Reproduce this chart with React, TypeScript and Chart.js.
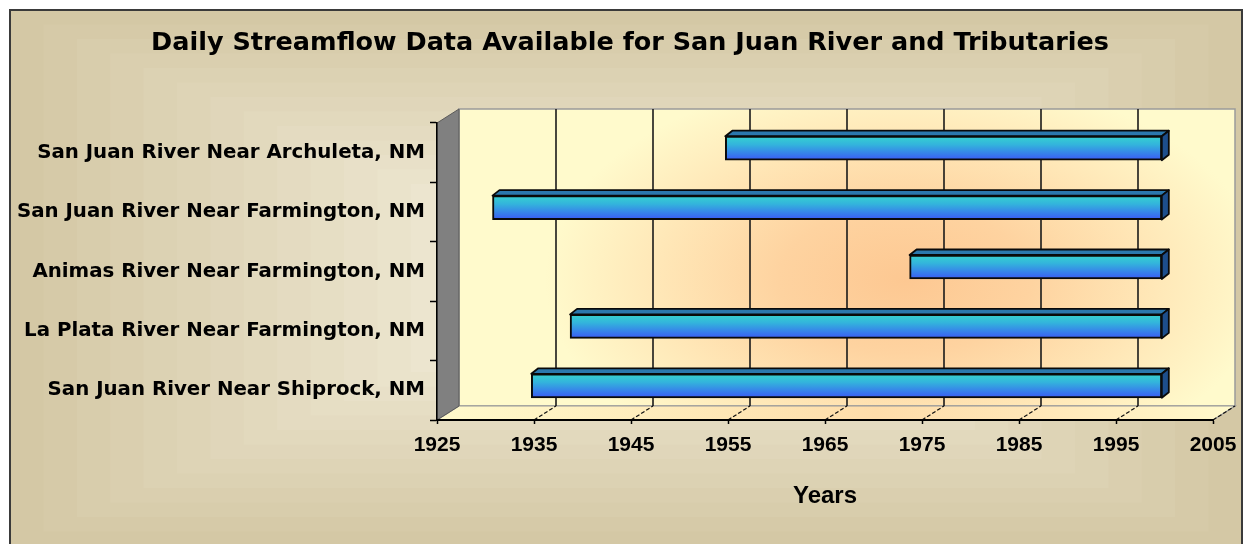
import React, { useEffect, useRef } from 'react';
import { Chart, registerables } from 'chart.js';

Chart.register(...registerables);

const chartTitle = 'Daily Streamflow Data Available for San Juan River and Tributaries';
const axisTitle = 'Years';
const stations = [
  'San Juan River Near Archuleta, NM',
  'San Juan River Near Farmington, NM',
  'Animas River Near Farmington, NM',
  'La Plata River Near Farmington, NM',
  'San Juan River Near Shiprock, NM',
];
const startYears = [1954, 1930, 1973, 1938, 1934];
const endYears = [1999, 1999, 1999, 1999, 1999];
const yearTicks = [1925, 1935, 1945, 1955, 1965, 1975, 1985, 1995, 2005];

const DEPTH_X = 22;
const DEPTH_Y = 14;
const BAR_SHIFT_X = 7;
const BAR_SHIFT_Y = 4.5;
const BAR_DX = 7;
const BAR_DY = 5.5;

function mix(a: number[], b: number[], t: number) {
  return `rgb(${a.map((v, i) => Math.round(v + (b[i] - v) * t)).join(',')})`;
}

const scenePlugin = {
  id: 'scene3d',
  beforeDraw(chart: any) {
    const ctx = chart.ctx as CanvasRenderingContext2D;
    const ca = chart.chartArea;
    const xs = chart.scales.x;
    ctx.save();
    // outer frame with concentric bands
    const fx0 = 10, fy0 = 10, fx1 = 1242, fy1 = 546;
    const outer = [212, 200, 165];
    const inner = [246, 241, 224];
    const N = 18;
    for (let i = 0; i < N; i++) {
      const ix = i * 33.4, iy = i * 14.5;
      ctx.fillStyle = mix(outer, inner, i / (N - 1));
      ctx.fillRect(fx0 + ix, fy0 + iy, fx1 - fx0 - 2 * ix, fy1 - fy0 - 2 * iy);
    }
    ctx.strokeStyle = '#3a3a3a';
    ctx.lineWidth = 2;
    ctx.strokeRect(fx0, fy0, fx1 - fx0, fy1 - fy0);

    // chart title (centered on the frame)
    ctx.fillStyle = '#000';
    ctx.font = 'bold 25.5px "DejaVu Sans"';
    ctx.textAlign = 'center';
    ctx.textBaseline = 'middle';
    ctx.fillText(chartTitle, 630, 43);

    const L = ca.left, R = ca.right, T = ca.top, B = ca.bottom;
    const bl = L + DEPTH_X, br = R + DEPTH_X, bt = T - DEPTH_Y, bb = B - DEPTH_Y;

    // back wall
    ctx.save();
    ctx.beginPath();
    ctx.rect(bl, bt, br - bl, bb - bt);
    ctx.clip();
    ctx.fillStyle = '#FFFACC';
    ctx.fillRect(bl, bt, br - bl, bb - bt);
    const cx = 905, cy = 280;
    ctx.translate(cx, cy);
    ctx.scale(1, 0.58);
    const rg = ctx.createRadialGradient(0, 0, 0, 0, 0, 360);
    rg.addColorStop(0, '#FDC892');
    rg.addColorStop(0.35, '#FED3A0');
    rg.addColorStop(0.7, '#FFE8B8');
    rg.addColorStop(1, '#FFFACC');
    ctx.fillStyle = rg;
    ctx.fillRect(-700, -700, 1400, 1400);
    ctx.restore();
    ctx.strokeStyle = '#9a9a9a';
    ctx.lineWidth = 1.5;
    ctx.strokeRect(bl, bt, br - bl, bb - bt);

    // floor
    const fg = ctx.createLinearGradient(L, 0, br, 0);
    fg.addColorStop(0, '#FFFACC');
    fg.addColorStop(0.55, '#FEDDAA');
    fg.addColorStop(0.75, '#FFE7B8');
    fg.addColorStop(1, '#FFFACC');
    ctx.beginPath();
    ctx.moveTo(L, B);
    ctx.lineTo(R, B);
    ctx.lineTo(br, bb);
    ctx.lineTo(bl, bb);
    ctx.closePath();
    ctx.fillStyle = fg;
    ctx.fill();
    ctx.strokeStyle = '#9a9a9a';
    ctx.lineWidth = 1.2;
    ctx.stroke();

    // side wall
    ctx.beginPath();
    ctx.moveTo(L, T);
    ctx.lineTo(bl, bt);
    ctx.lineTo(bl, bb);
    ctx.lineTo(L, B);
    ctx.closePath();
    ctx.fillStyle = '#808080';
    ctx.fill();
    ctx.strokeStyle = '#5a5a5a';
    ctx.lineWidth = 1;
    ctx.stroke();

    // gridlines on back wall and floor
    xs.ticks.forEach((t: any) => {
      const px = xs.getPixelForValue(t.value);
      if (t.value > yearTicks[0] && t.value < yearTicks[yearTicks.length - 1]) {
        ctx.beginPath();
        ctx.moveTo(px + DEPTH_X, bt);
        ctx.lineTo(px + DEPTH_X, bb);
        ctx.strokeStyle = '#1a1a1a';
        ctx.lineWidth = 1.6;
        ctx.stroke();
      }
      if (t.value > yearTicks[0]) {
        ctx.beginPath();
        ctx.moveTo(px, B);
        ctx.lineTo(px + DEPTH_X, bb);
        ctx.strokeStyle = '#111';
        ctx.lineWidth = 1.2;
        ctx.setLineDash([4, 2]);
        ctx.stroke();
        ctx.setLineDash([]);
      }
    });
    ctx.restore();
  },
  beforeDatasetsDraw(chart: any) {
    const ctx = chart.ctx as CanvasRenderingContext2D;
    ctx.save();
    ctx.translate(BAR_SHIFT_X, -BAR_SHIFT_Y);
    const meta = chart.getDatasetMeta(0);
    meta.data.forEach((el: any) => {
      const p = el.getProps(['x', 'base', 'y', 'height'], true);
      const left = Math.min(p.x, p.base), right = Math.max(p.x, p.base);
      const top = p.y - p.height / 2, bottom = p.y + p.height / 2;
      ctx.lineJoin = 'round';
      ctx.lineWidth = 1.8;
      ctx.strokeStyle = '#0a0a0a';
      // top face
      ctx.beginPath();
      ctx.moveTo(left, top);
      ctx.lineTo(left + BAR_DX, top - BAR_DY);
      ctx.lineTo(right + BAR_DX, top - BAR_DY);
      ctx.lineTo(right, top);
      ctx.closePath();
      ctx.fillStyle = '#2B78AE';
      ctx.fill();
      ctx.stroke();
      // right face
      ctx.beginPath();
      ctx.moveTo(right, top);
      ctx.lineTo(right + BAR_DX, top - BAR_DY);
      ctx.lineTo(right + BAR_DX, bottom - BAR_DY);
      ctx.lineTo(right, bottom);
      ctx.closePath();
      ctx.fillStyle = '#1D4E8C';
      ctx.fill();
      ctx.stroke();
    });
  },
  afterDatasetsDraw(chart: any) {
    chart.ctx.restore();
  },
};

export default function App() {
  const ref = useRef<HTMLCanvasElement | null>(null);
  useEffect(() => {
    if (!ref.current) return;
    const chart = new Chart(ref.current, {
      type: 'bar',
      data: {
        labels: stations,
        datasets: [
          {
            label: 'Record',
            data: stations.map((_, i) => [startYears[i], endYears[i]]) as any,
            barThickness: 24,
            borderWidth: 2,
            borderColor: '#0a0a0a',
            borderSkipped: false,
            clip: false as any,
            backgroundColor: (c: any) => {
              const ch = c.chart;
              const ys = ch.scales?.y;
              if (!ys || !ch.chartArea || c.dataIndex === undefined) return '#33A0E0';
              const yc = ys.getPixelForValue(c.dataIndex);
              const g = ch.ctx.createLinearGradient(0, yc - 12, 0, yc + 12);
              g.addColorStop(0, '#36D2D0');
              g.addColorStop(0.35, '#33B4DC');
              g.addColorStop(1, '#3A5AF5');
              return g;
            },
          },
        ],
      },
      options: {
        indexAxis: 'y',
        responsive: false,
        animation: false,
        devicePixelRatio: 1,
        layout: { padding: { left: 0, right: 34, top: 123, bottom: 0 } },
        plugins: {
          legend: { display: false },
          tooltip: { enabled: false },
          title: { display: false },
        },
        scales: {
          x: {
            type: 'linear',
            min: yearTicks[0],
            max: yearTicks[yearTicks.length - 1],
            afterBuildTicks: (s: any) => {
              s.ticks = yearTicks.map((v) => ({ value: v }));
            },
            afterFit: (s: any) => {
              s.height = 124;
            },
            grid: { drawOnChartArea: false, drawTicks: true, tickLength: 4, tickColor: '#000', tickWidth: 1.5 },
            border: { display: true, color: '#000', width: 2 },
            ticks: {
              color: '#000',
              padding: 9,
              maxRotation: 0,
              autoSkip: false,
              font: { family: 'Liberation Sans', weight: 'bold', size: 21 },
              callback: (v: any) => String(v),
            },
            title: {
              display: true,
              text: axisTitle,
              color: '#000',
              font: { family: 'Liberation Sans', weight: 'bold', size: 24, lineHeight: 1.2 },
              padding: { top: 0, bottom: 33.6 },
            },
          },
          y: {
            type: 'category',
            afterFit: (s: any) => {
              s.width = 437;
            },
            grid: { drawOnChartArea: false, drawTicks: true, tickLength: 7, tickColor: '#000', tickWidth: 1.5, offset: true },
            border: { display: true, color: '#000', width: 1.5 },
            ticks: {
              color: '#000',
              padding: 5,
              autoSkip: false,
              font: { family: 'DejaVu Sans', weight: 'bold', size: 19.8 },
            },
          },
        },
      },
      plugins: [scenePlugin],
    });
    return () => chart.destroy();
  }, []);
  return (
    <div style={{ position: 'absolute', left: 0, top: 0, width: 1247, height: 544 }}>
      <canvas ref={ref} width={1247} height={544} />
    </div>
  );
}
